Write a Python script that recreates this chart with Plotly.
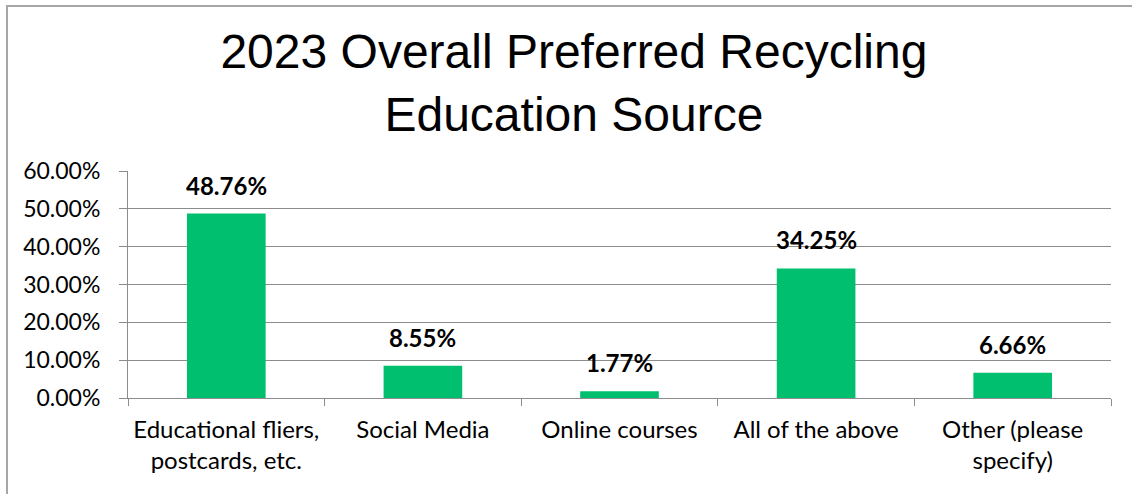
import plotly.graph_objects as go

# categories and shares
categories = ["Educational fliers,<br>postcards, etc.", "Social Media", "Online courses",
              "All of the above", "Other (please<br>specify)"]
shares = [0.4876, 0.0855, 0.0177, 0.3425, 0.0666]
y_ticks = [0, 0.1, 0.2, 0.3, 0.4, 0.5, 0.6]

body_font = "Lato"
grey = "#8c8c8c"

fig = go.Figure()
fig.add_trace(go.Bar(x=categories, y=shares, marker_color="#00BF6F",
                     marker_line_width=0, width=0.4))

# value labels sit a little above each bar, like the excel data labels
for c, v in zip(categories, shares):
    fig.add_annotation(x=c, y=v, text="<b>%.2f%%</b>" % (v * 100), showarrow=False,
                       yanchor="bottom", yshift=12,
                       font=dict(family=body_font, size=24, color="black"))

# outer frame of the chart object
fig.add_shape(type="rect", xref="paper", yref="paper",
              x0=-0.1231, x1=1.05, y0=-1, y1=1.7269,
              line=dict(color="#a6a6a6", width=2), layer="below")

fig.update_layout(
    width=1132, height=494,
    margin=dict(l=128, r=21, t=171, b=96),
    paper_bgcolor="white", plot_bgcolor="white",
    showlegend=False, bargap=0.6,
    title=dict(text="2023 Overall Preferred Recycling<br>Education Source",
               x=0.507, xanchor="center", y=0.862, yanchor="top",
               font=dict(family="Liberation Sans, Arial", size=48, color="black")),
)
fig.update_xaxes(showline=True, linecolor=grey, linewidth=1, automargin=False,
                 ticks="outside", tickson="boundaries", ticklen=7, tickcolor=grey,
                 ticklabelstandoff=10,
                 tickfont=dict(family=body_font, size=24, color="black"),
                 showgrid=False)
fig.update_yaxes(range=[0, 0.6], tickvals=y_ticks, tickformat=".2%", automargin=False,
                 showline=True, linecolor=grey, linewidth=1,
                 ticks="outside", ticklen=8, tickcolor=grey, ticklabelstandoff=14,
                 tickfont=dict(family=body_font, size=23, color="black"),
                 showgrid=True, gridcolor=grey, gridwidth=1, zeroline=False)

# drop the browser's default 8px body margin so the figure sits at the page corner
fig.write_html("out.html", config={"displayModeBar": False},
               post_script="document.body.style.margin='0';")
